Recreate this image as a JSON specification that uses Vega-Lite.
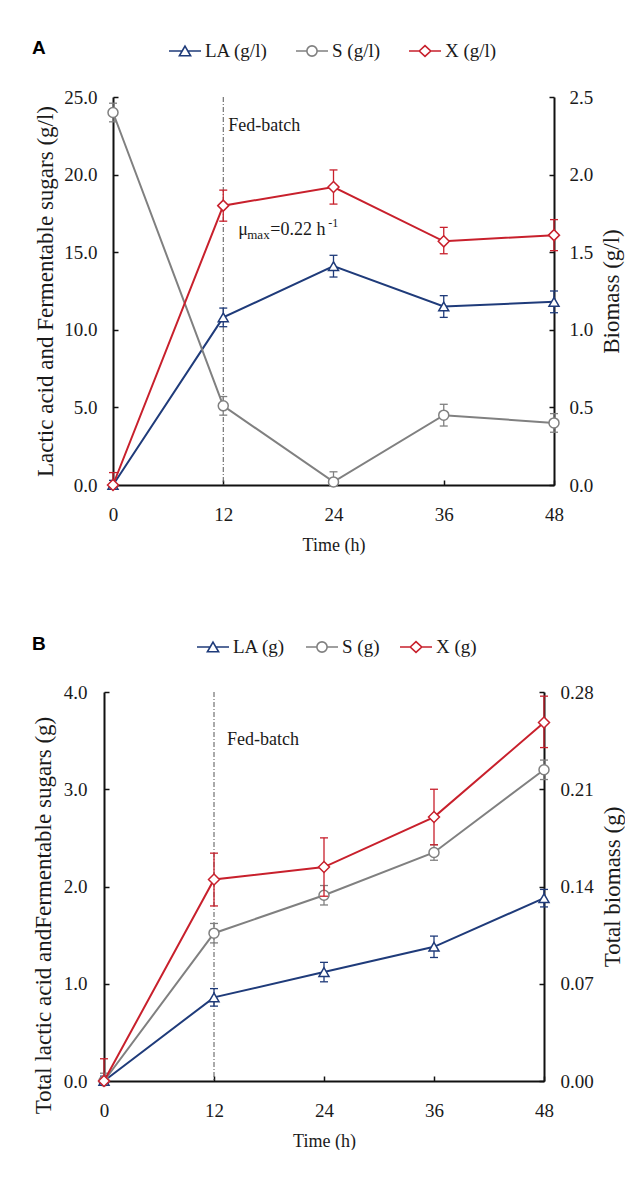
{
  "$schema": "https://vega.github.io/schema/vega-lite/v6.json",
  "background": "white",
  "padding": {"left": 32, "top": 34, "right": 0, "bottom": 0},
  "autosize": {"type": "pad"},
  "config": {
    "font": "Liberation Serif",
    "view": {"stroke": null},
    "concat": {"spacing": 76},
    "axis": {
      "labelFont": "Liberation Serif", "titleFont": "Liberation Serif",
      "labelFontSize": 19, "titleFontSize": 23, "titleFontWeight": "normal",
      "labelColor": "#1a1a1a", "titleColor": "#1a1a1a",
      "domainColor": "#111", "domainWidth": 2, "tickColor": "#111", "tickWidth": 1.5,
      "tickSize": -5, "grid": false, "labelFlush": false, "labelOverlap": false
    },
    "legend": {
      "orient": "none", "direction": "horizontal", "titleOrient": "left",
      "titleBaseline": "middle", "titleAnchor": "middle",
      "labelFont": "Liberation Serif", "labelFontSize": 19, "labelColor": "#1a1a1a", "labelOffset": 3,
      "titleFont": "Liberation Sans", "titleFontWeight": "bold", "titleFontSize": 19, "titleColor": "#000",
      "symbolSize": 1024, "symbolStrokeWidth": 1.6, "symbolOpacity": 1
    }
  },
  "datasets": {
    "a": [
      {"t": 0, "s": "LA (g/l)", "v": 0, "lo": 0, "hi": 0.3},
      {"t": 12, "s": "LA (g/l)", "v": 10.8, "lo": 10.2, "hi": 11.4},
      {"t": 24, "s": "LA (g/l)", "v": 14.1, "lo": 13.4, "hi": 14.8},
      {"t": 36, "s": "LA (g/l)", "v": 11.5, "lo": 10.8, "hi": 12.2},
      {"t": 48, "s": "LA (g/l)", "v": 11.8, "lo": 11.1, "hi": 12.5},
      {"t": 0, "s": "S (g/l)", "v": 24.0, "lo": 23.4, "hi": 24.6},
      {"t": 12, "s": "S (g/l)", "v": 5.1, "lo": 4.5, "hi": 5.7},
      {"t": 24, "s": "S (g/l)", "v": 0.2, "lo": 0, "hi": 0.85},
      {"t": 36, "s": "S (g/l)", "v": 4.5, "lo": 3.8, "hi": 5.2},
      {"t": 48, "s": "S (g/l)", "v": 4.0, "lo": 3.4, "hi": 4.6},
      {"t": 0, "s": "X (g/l)", "v": 0, "lo": 0, "hi": 0.08},
      {"t": 12, "s": "X (g/l)", "v": 1.80, "lo": 1.70, "hi": 1.90},
      {"t": 24, "s": "X (g/l)", "v": 1.92, "lo": 1.81, "hi": 2.03},
      {"t": 36, "s": "X (g/l)", "v": 1.57, "lo": 1.49, "hi": 1.66},
      {"t": 48, "s": "X (g/l)", "v": 1.61, "lo": 1.51, "hi": 1.71}
    ],
    "b": [
      {"t": 0, "s": "LA (g)", "v": 0, "lo": 0, "hi": 0.05},
      {"t": 12, "s": "LA (g)", "v": 0.86, "lo": 0.77, "hi": 0.95},
      {"t": 24, "s": "LA (g)", "v": 1.12, "lo": 1.02, "hi": 1.22},
      {"t": 36, "s": "LA (g)", "v": 1.38, "lo": 1.27, "hi": 1.49},
      {"t": 48, "s": "LA (g)", "v": 1.88, "lo": 1.79, "hi": 1.97},
      {"t": 0, "s": "S (g)", "v": 0, "lo": 0, "hi": 0.08},
      {"t": 12, "s": "S (g)", "v": 1.52, "lo": 1.42, "hi": 1.62},
      {"t": 24, "s": "S (g)", "v": 1.91, "lo": 1.81, "hi": 2.01},
      {"t": 36, "s": "S (g)", "v": 2.35, "lo": 2.27, "hi": 2.43},
      {"t": 48, "s": "S (g)", "v": 3.2, "lo": 3.1, "hi": 3.3},
      {"t": 0, "s": "X (g)", "v": 0, "lo": 0, "hi": 0.016},
      {"t": 12, "s": "X (g)", "v": 0.145, "lo": 0.126, "hi": 0.164},
      {"t": 24, "s": "X (g)", "v": 0.154, "lo": 0.133, "hi": 0.175},
      {"t": 36, "s": "X (g)", "v": 0.19, "lo": 0.17, "hi": 0.21},
      {"t": 48, "s": "X (g)", "v": 0.258, "lo": 0.24, "hi": 0.277}
    ]
  },
  "resolve": {
    "scale": {"x": "independent", "y": "independent", "color": "independent", "shape": "independent", "stroke": "independent"},
    "legend": {"color": "independent", "shape": "independent"}
  },
  "vconcat": [
    {
      "width": 450, "height": 388,
      "data": {"name": "a"},
      "resolve": {"scale": {"y": "independent"}},
      "layer": [
        {
          "layer": [
            {"data": {"values": [{}]}, "mark": {"type": "rule", "color": "#555", "strokeWidth": 1, "strokeDash": [5, 2, 1, 2]},
             "encoding": {"x": {"datum": 12, "type": "quantitative", "scale": {"domain": [0, 48], "range": [9, 450]}}}},
            {"data": {"values": [{}]}, "mark": {"type": "text", "text": "Fed-batch", "align": "left", "baseline": "alphabetic", "dx": 5, "font": "Liberation Serif", "fontSize": 18, "color": "#1a1a1a"},
             "encoding": {"x": {"datum": 12, "type": "quantitative", "scale": {"domain": [0, 48], "range": [9, 450]}}, "y": {"datum": 22.8, "type": "quantitative", "scale": {"domain": [0, 25], "nice": false}}}},
            {"data": {"values": [{}]}, "mark": {"type": "text", "text": "μ", "align": "left", "baseline": "alphabetic", "dx": 15, "font": "Liberation Serif", "fontSize": 18, "color": "#1a1a1a"},
             "encoding": {"x": {"datum": 12, "type": "quantitative", "scale": {"domain": [0, 48], "range": [9, 450]}}, "y": {"datum": 16.1, "type": "quantitative", "scale": {"domain": [0, 25], "nice": false}}}},
            {"data": {"values": [{}]}, "mark": {"type": "text", "text": "max", "align": "left", "baseline": "alphabetic", "dx": 24, "dy": 4, "font": "Liberation Serif", "fontSize": 13, "color": "#1a1a1a"},
             "encoding": {"x": {"datum": 12, "type": "quantitative", "scale": {"domain": [0, 48], "range": [9, 450]}}, "y": {"datum": 16.1, "type": "quantitative", "scale": {"domain": [0, 25], "nice": false}}}},
            {"data": {"values": [{}]}, "mark": {"type": "text", "text": "=0.22 h", "align": "left", "baseline": "alphabetic", "dx": 47, "font": "Liberation Serif", "fontSize": 18, "color": "#1a1a1a"},
             "encoding": {"x": {"datum": 12, "type": "quantitative", "scale": {"domain": [0, 48], "range": [9, 450]}}, "y": {"datum": 16.1, "type": "quantitative", "scale": {"domain": [0, 25], "nice": false}}}},
            {"data": {"values": [{}]}, "mark": {"type": "text", "text": "-1", "align": "left", "baseline": "alphabetic", "dx": 105, "dy": -8, "font": "Liberation Serif", "fontSize": 12, "color": "#1a1a1a"},
             "encoding": {"x": {"datum": 12, "type": "quantitative", "scale": {"domain": [0, 48], "range": [9, 450]}}, "y": {"datum": 16.1, "type": "quantitative", "scale": {"domain": [0, 25], "nice": false}}}},
            {"transform": [{"filter": "datum.s != 'X (g/l)'"}], "mark": {"type": "rule", "strokeWidth": 1.3},
             "encoding": {"x": {"field": "t", "type": "quantitative", "scale": {"domain": [0, 48], "range": [9, 450]}},
                          "y": {"field": "lo", "type": "quantitative", "scale": {"domain": [0, 25], "nice": false}}, "y2": {"field": "hi"},
                          "stroke": {"field": "s", "type": "nominal", "scale": {"domain": ["X (g/l)", "S (g/l)", "LA (g/l)"], "range": ["#c8202c", "#808080", "#1f3b7a"]}, "legend": null}}},
            {"transform": [{"filter": "datum.s != 'X (g/l)'"}], "mark": {"type": "point", "shape": "stroke", "size": 64, "strokeWidth": 1.3, "opacity": 1},
             "encoding": {"x": {"field": "t", "type": "quantitative", "scale": {"domain": [0, 48], "range": [9, 450]}},
                          "y": {"field": "lo", "type": "quantitative", "scale": {"domain": [0, 25], "nice": false}},
                          "stroke": {"field": "s", "type": "nominal", "scale": {"domain": ["X (g/l)", "S (g/l)", "LA (g/l)"], "range": ["#c8202c", "#808080", "#1f3b7a"]}, "legend": null}}},
            {"transform": [{"filter": "datum.s != 'X (g/l)'"}], "mark": {"type": "point", "shape": "stroke", "size": 64, "strokeWidth": 1.3, "opacity": 1},
             "encoding": {"x": {"field": "t", "type": "quantitative", "scale": {"domain": [0, 48], "range": [9, 450]}},
                          "y": {"field": "hi", "type": "quantitative", "scale": {"domain": [0, 25], "nice": false}},
                          "stroke": {"field": "s", "type": "nominal", "scale": {"domain": ["X (g/l)", "S (g/l)", "LA (g/l)"], "range": ["#c8202c", "#808080", "#1f3b7a"]}, "legend": null}}},
            {"transform": [{"filter": "datum.s != 'X (g/l)'"}], "mark": {"type": "line", "strokeWidth": 2},
             "encoding": {"x": {"field": "t", "type": "quantitative", "scale": {"domain": [0, 48], "range": [9, 450]},
                                "axis": {"values": [0, 12, 24, 36, 48], "title": "Time (h)", "titleFontSize": 18, "labelPadding": 25, "titlePadding": 12}},
                          "y": {"field": "v", "type": "quantitative", "scale": {"domain": [0, 25], "nice": false},
                                "axis": {"orient": "left", "offset": -9, "values": [0, 5, 10, 15, 20, 25], "format": ".1f", "title": "Lactic acid and Fermentable sugars (g/l)", "labelPadding": 21, "titlePadding": 6}},
                          "stroke": {"field": "s", "type": "nominal", "scale": {"domain": ["X (g/l)", "S (g/l)", "LA (g/l)"], "range": ["#c8202c", "#808080", "#1f3b7a"]}, "legend": null}}},
            {"transform": [{"filter": "datum.s == 'S (g/l)'"}], "mark": {"type": "point", "shape": "circle", "size": 100, "filled": true, "fill": "white", "stroke": "#808080", "strokeWidth": 1.5, "opacity": 1},
             "encoding": {"x": {"field": "t", "type": "quantitative", "scale": {"domain": [0, 48], "range": [9, 450]}},
                          "y": {"field": "v", "type": "quantitative", "scale": {"domain": [0, 25], "nice": false}}}},
            {"transform": [{"filter": "datum.s == 'LA (g/l)'"}], "mark": {"type": "point", "shape": "triangle-up", "size": 100, "filled": true, "fill": "white", "stroke": "#1f3b7a", "strokeWidth": 1.5, "opacity": 1},
             "encoding": {"x": {"field": "t", "type": "quantitative", "scale": {"domain": [0, 48], "range": [9, 450]}},
                          "y": {"field": "v", "type": "quantitative", "scale": {"domain": [0, 25], "nice": false}}}},
            {"mark": {"type": "point", "filled": false, "opacity": 0, "strokeWidth": 1.6},
             "encoding": {
               "color": {"field": "s", "type": "nominal", "scale": {"domain": ["LA (g/l)", "S (g/l)", "X (g/l)"], "range": ["#1f3b7a", "#808080", "#c8202c"]},
                         "legend": {"title": "A", "legendX": -72, "legendY": -63, "titlePadding": 122, "columnPadding": 24, "symbolOpacity": 1, "labelFont": "Liberation Serif", "labelFontSize": 19}},
               "shape": {"field": "s", "type": "nominal", "scale": {"domain": ["LA (g/l)", "S (g/l)", "X (g/l)"],
                         "range": ["M-1,0H-0.17M0.17,0H1M0,-0.3L0.35,0.3L-0.35,0.3Z", "M-1,0H-0.32M0.32,0H1M-0.32,0A0.32,0.32,0,1,1,0.32,0A0.32,0.32,0,1,1,-0.32,0Z", "M-1,0H-0.36M0.36,0H1M-0.36,0L0,-0.34L0.36,0L0,0.34Z"]},
                         "legend": {"title": "A", "legendX": -72, "legendY": -63, "titlePadding": 122, "columnPadding": 24, "symbolOpacity": 1, "labelFont": "Liberation Serif", "labelFontSize": 19}}
             }}
          ]
        },
        {
          "transform": [{"filter": "datum.s == 'X (g/l)'"}],
          "layer": [
            {"mark": {"type": "rule", "strokeWidth": 1.3},
             "encoding": {"x": {"field": "t", "type": "quantitative", "scale": {"domain": [0, 48], "range": [9, 450]}},
                          "y": {"field": "lo", "type": "quantitative", "scale": {"domain": [0, 2.5], "nice": false}}, "y2": {"field": "hi"},
                          "stroke": {"field": "s", "type": "nominal", "scale": {"domain": ["X (g/l)", "S (g/l)", "LA (g/l)"], "range": ["#c8202c", "#808080", "#1f3b7a"]}, "legend": null}}},
            {"mark": {"type": "point", "shape": "stroke", "size": 64, "strokeWidth": 1.3, "opacity": 1},
             "encoding": {"x": {"field": "t", "type": "quantitative", "scale": {"domain": [0, 48], "range": [9, 450]}},
                          "y": {"field": "lo", "type": "quantitative", "scale": {"domain": [0, 2.5], "nice": false}},
                          "stroke": {"field": "s", "type": "nominal", "scale": {"domain": ["X (g/l)", "S (g/l)", "LA (g/l)"], "range": ["#c8202c", "#808080", "#1f3b7a"]}, "legend": null}}},
            {"mark": {"type": "point", "shape": "stroke", "size": 64, "strokeWidth": 1.3, "opacity": 1},
             "encoding": {"x": {"field": "t", "type": "quantitative", "scale": {"domain": [0, 48], "range": [9, 450]}},
                          "y": {"field": "hi", "type": "quantitative", "scale": {"domain": [0, 2.5], "nice": false}},
                          "stroke": {"field": "s", "type": "nominal", "scale": {"domain": ["X (g/l)", "S (g/l)", "LA (g/l)"], "range": ["#c8202c", "#808080", "#1f3b7a"]}, "legend": null}}},
            {"mark": {"type": "line", "strokeWidth": 2},
             "encoding": {"x": {"field": "t", "type": "quantitative", "scale": {"domain": [0, 48], "range": [9, 450]}},
                          "y": {"field": "v", "type": "quantitative", "scale": {"domain": [0, 2.5], "nice": false},
                                "axis": {"orient": "right", "values": [0, 0.5, 1, 1.5, 2, 2.5], "format": ".1f", "title": "Biomass (g/l)", "titleAngle": 270, "titleBaseline": "top", "labelPadding": 20, "titlePadding": 8}},
                          "stroke": {"field": "s", "type": "nominal", "scale": {"domain": ["X (g/l)", "S (g/l)", "LA (g/l)"], "range": ["#c8202c", "#808080", "#1f3b7a"]}, "legend": null}}},
            {"mark": {"type": "point", "shape": "diamond", "size": 121, "filled": true, "fill": "white", "stroke": "#c8202c", "strokeWidth": 1.5, "opacity": 1},
             "encoding": {"x": {"field": "t", "type": "quantitative", "scale": {"domain": [0, 48], "range": [9, 450]}},
                          "y": {"field": "v", "type": "quantitative", "scale": {"domain": [0, 2.5], "nice": false}}}}
          ]
        }
      ]
    },
    {
      "width": 440, "height": 389,
      "data": {"name": "b"},
      "resolve": {"scale": {"y": "independent"}},
      "layer": [
        {
          "layer": [
            {"data": {"values": [{}]}, "mark": {"type": "rule", "color": "#555", "strokeWidth": 1, "strokeDash": [5, 2, 1, 2]},
             "encoding": {"x": {"datum": 12, "type": "quantitative", "scale": {"domain": [0, 48]}}}},
            {"data": {"values": [{}]}, "mark": {"type": "text", "text": "Fed-batch", "align": "left", "baseline": "alphabetic", "dx": 13, "font": "Liberation Serif", "fontSize": 18, "color": "#1a1a1a"},
             "encoding": {"x": {"datum": 12, "type": "quantitative", "scale": {"domain": [0, 48]}}, "y": {"datum": 3.455, "type": "quantitative", "scale": {"domain": [0, 4], "nice": false}}}},
            {"transform": [{"filter": "datum.s != 'X (g)'"}], "mark": {"type": "rule", "strokeWidth": 1.3},
             "encoding": {"x": {"field": "t", "type": "quantitative", "scale": {"domain": [0, 48]}},
                          "y": {"field": "lo", "type": "quantitative", "scale": {"domain": [0, 4], "nice": false}}, "y2": {"field": "hi"},
                          "stroke": {"field": "s", "type": "nominal", "scale": {"domain": ["X (g)", "S (g)", "LA (g)"], "range": ["#c8202c", "#808080", "#1f3b7a"]}, "legend": null}}},
            {"transform": [{"filter": "datum.s != 'X (g)'"}], "mark": {"type": "point", "shape": "stroke", "size": 64, "strokeWidth": 1.3, "opacity": 1},
             "encoding": {"x": {"field": "t", "type": "quantitative", "scale": {"domain": [0, 48]}},
                          "y": {"field": "lo", "type": "quantitative", "scale": {"domain": [0, 4], "nice": false}},
                          "stroke": {"field": "s", "type": "nominal", "scale": {"domain": ["X (g)", "S (g)", "LA (g)"], "range": ["#c8202c", "#808080", "#1f3b7a"]}, "legend": null}}},
            {"transform": [{"filter": "datum.s != 'X (g)'"}], "mark": {"type": "point", "shape": "stroke", "size": 64, "strokeWidth": 1.3, "opacity": 1},
             "encoding": {"x": {"field": "t", "type": "quantitative", "scale": {"domain": [0, 48]}},
                          "y": {"field": "hi", "type": "quantitative", "scale": {"domain": [0, 4], "nice": false}},
                          "stroke": {"field": "s", "type": "nominal", "scale": {"domain": ["X (g)", "S (g)", "LA (g)"], "range": ["#c8202c", "#808080", "#1f3b7a"]}, "legend": null}}},
            {"transform": [{"filter": "datum.s != 'X (g)'"}], "mark": {"type": "line", "strokeWidth": 2},
             "encoding": {"x": {"field": "t", "type": "quantitative", "scale": {"domain": [0, 48]},
                                "axis": {"values": [0, 12, 24, 36, 48], "title": "Time (h)", "titleFontSize": 18, "labelPadding": 25, "titlePadding": 12}},
                          "y": {"field": "v", "type": "quantitative", "scale": {"domain": [0, 4], "nice": false},
                                "axis": {"orient": "left", "values": [0, 1, 2, 3, 4], "format": ".1f", "title": "Total lactic acid andFermentable sugars (g)", "titleY": 223, "labelPadding": 22, "titlePadding": 8}},
                          "stroke": {"field": "s", "type": "nominal", "scale": {"domain": ["X (g)", "S (g)", "LA (g)"], "range": ["#c8202c", "#808080", "#1f3b7a"]}, "legend": null}}},
            {"transform": [{"filter": "datum.s == 'S (g)'"}], "mark": {"type": "point", "shape": "circle", "size": 100, "filled": true, "fill": "white", "stroke": "#808080", "strokeWidth": 1.5, "opacity": 1},
             "encoding": {"x": {"field": "t", "type": "quantitative", "scale": {"domain": [0, 48]}},
                          "y": {"field": "v", "type": "quantitative", "scale": {"domain": [0, 4], "nice": false}}}},
            {"transform": [{"filter": "datum.s == 'LA (g)'"}], "mark": {"type": "point", "shape": "triangle-up", "size": 100, "filled": true, "fill": "white", "stroke": "#1f3b7a", "strokeWidth": 1.5, "opacity": 1},
             "encoding": {"x": {"field": "t", "type": "quantitative", "scale": {"domain": [0, 48]}},
                          "y": {"field": "v", "type": "quantitative", "scale": {"domain": [0, 4], "nice": false}}}},
            {"mark": {"type": "point", "filled": false, "opacity": 0, "strokeWidth": 1.6},
             "encoding": {
               "color": {"field": "s", "type": "nominal", "scale": {"domain": ["LA (g)", "S (g)", "X (g)"], "range": ["#1f3b7a", "#808080", "#c8202c"]},
                         "legend": {"title": "B", "legendX": -72, "legendY": -62, "titlePadding": 150, "columnPadding": 16, "symbolOpacity": 1, "labelFont": "Liberation Serif", "labelFontSize": 19}},
               "shape": {"field": "s", "type": "nominal", "scale": {"domain": ["LA (g)", "S (g)", "X (g)"],
                         "range": ["M-1,0H-0.17M0.17,0H1M0,-0.3L0.35,0.3L-0.35,0.3Z", "M-1,0H-0.32M0.32,0H1M-0.32,0A0.32,0.32,0,1,1,0.32,0A0.32,0.32,0,1,1,-0.32,0Z", "M-1,0H-0.36M0.36,0H1M-0.36,0L0,-0.34L0.36,0L0,0.34Z"]},
                         "legend": {"title": "B", "legendX": -72, "legendY": -62, "titlePadding": 150, "columnPadding": 16, "symbolOpacity": 1, "labelFont": "Liberation Serif", "labelFontSize": 19}}
             }}
          ]
        },
        {
          "transform": [{"filter": "datum.s == 'X (g)'"}],
          "layer": [
            {"mark": {"type": "rule", "strokeWidth": 1.3},
             "encoding": {"x": {"field": "t", "type": "quantitative", "scale": {"domain": [0, 48]}},
                          "y": {"field": "lo", "type": "quantitative", "scale": {"domain": [0, 0.28], "nice": false}}, "y2": {"field": "hi"},
                          "stroke": {"field": "s", "type": "nominal", "scale": {"domain": ["X (g)", "S (g)", "LA (g)"], "range": ["#c8202c", "#808080", "#1f3b7a"]}, "legend": null}}},
            {"mark": {"type": "point", "shape": "stroke", "size": 64, "strokeWidth": 1.3, "opacity": 1},
             "encoding": {"x": {"field": "t", "type": "quantitative", "scale": {"domain": [0, 48]}},
                          "y": {"field": "lo", "type": "quantitative", "scale": {"domain": [0, 0.28], "nice": false}},
                          "stroke": {"field": "s", "type": "nominal", "scale": {"domain": ["X (g)", "S (g)", "LA (g)"], "range": ["#c8202c", "#808080", "#1f3b7a"]}, "legend": null}}},
            {"mark": {"type": "point", "shape": "stroke", "size": 64, "strokeWidth": 1.3, "opacity": 1},
             "encoding": {"x": {"field": "t", "type": "quantitative", "scale": {"domain": [0, 48]}},
                          "y": {"field": "hi", "type": "quantitative", "scale": {"domain": [0, 0.28], "nice": false}},
                          "stroke": {"field": "s", "type": "nominal", "scale": {"domain": ["X (g)", "S (g)", "LA (g)"], "range": ["#c8202c", "#808080", "#1f3b7a"]}, "legend": null}}},
            {"mark": {"type": "line", "strokeWidth": 2},
             "encoding": {"x": {"field": "t", "type": "quantitative", "scale": {"domain": [0, 48]}},
                          "y": {"field": "v", "type": "quantitative", "scale": {"domain": [0, 0.28], "nice": false},
                                "axis": {"orient": "right", "values": [0, 0.07, 0.14, 0.21, 0.28], "format": ".2f", "title": "Total biomass (g)", "titleAngle": 270, "titleBaseline": "top", "labelPadding": 21, "titlePadding": 8}},
                          "stroke": {"field": "s", "type": "nominal", "scale": {"domain": ["X (g)", "S (g)", "LA (g)"], "range": ["#c8202c", "#808080", "#1f3b7a"]}, "legend": null}}},
            {"mark": {"type": "point", "shape": "diamond", "size": 121, "filled": true, "fill": "white", "stroke": "#c8202c", "strokeWidth": 1.5, "opacity": 1},
             "encoding": {"x": {"field": "t", "type": "quantitative", "scale": {"domain": [0, 48]}},
                          "y": {"field": "v", "type": "quantitative", "scale": {"domain": [0, 0.28], "nice": false}}}}
          ]
        }
      ]
    }
  ]
}
